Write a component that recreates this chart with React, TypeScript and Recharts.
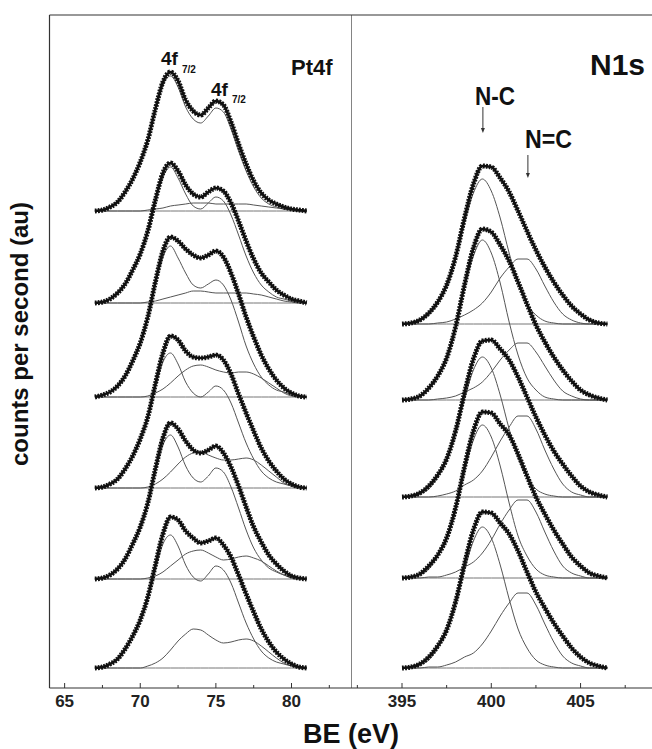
import React from "react";
import { LineChart, Line, XAxis, YAxis, ReferenceLine } from "recharts";

// Pt4f binding energies (eV)
const ptEnergy = [
  67, 67.5, 68, 68.5, 69, 69.5, 70, 70.5, 71, 71.5, 72, 72.5, 73, 73.5, 74,
  74.5, 75, 75.5, 76, 76.5, 77, 77.5, 78, 78.5, 79, 79.5, 80, 80.5, 81,
];
// stack offsets, top spectrum first
const ptOffsets = [477, 385, 291, 200, 109, 20];

const ptEnvA = [0, 1, 4, 9, 19, 32, 49, 71, 102, 129, 139, 130, 111, 100, 96, 103, 110, 106, 89, 67, 47, 30, 18, 11, 7, 4, 2, 1, 0];
const ptMetalA = [0, 1, 4, 9, 19, 32, 49, 70, 100, 126, 135, 124, 104, 92, 88, 95, 103, 99, 82, 60, 40, 24, 13, 7, 4, 2, 1, 0, 0];
const ptOxideA = [0, 0, 0, 0, 0, 0, 0, 1, 2, 3, 5, 6, 7, 8, 8, 8, 7, 7, 7, 7, 7, 6, 5, 4, 3, 2, 1, 0, 0];

const ptEnvB = [0, 1, 4, 10, 19, 33, 49, 72, 103, 130, 140, 132, 118, 109, 106, 111, 115, 112, 100, 82, 62, 44, 30, 21, 13, 8, 4, 2, 0];
const ptMetalB = [0, 1, 4, 10, 19, 33, 49, 71, 101, 126, 136, 125, 109, 97, 94, 100, 106, 102, 88, 68, 47, 30, 18, 11, 6, 4, 2, 1, 0];
const ptOxideB = [0, 0, 0, 0, 0, 0, 0, 1, 2, 4, 6, 8, 10, 12, 12, 11, 10, 10, 10, 10, 10, 9, 8, 6, 4, 2, 1, 0, 0];

const ptEnvC = [0, 2, 5, 11, 21, 36, 54, 80, 115, 146, 160, 156, 148, 142, 139, 142, 146, 140, 124, 103, 80, 60, 42, 28, 17, 9, 4, 1, 0];
const ptMetalC = [0, 2, 5, 11, 21, 36, 54, 79, 112, 140, 151, 139, 124, 112, 109, 113, 117, 112, 97, 75, 51, 33, 20, 12, 7, 5, 2, 1, 0];
const ptOxideC = [0, 0, 0, 0, 0, 0, 0, 1, 4, 8, 14, 21, 27, 31, 32, 30, 27, 25, 24, 25, 25, 23, 19, 14, 9, 4, 1, 0, 0];

const ptEnvD = [0, 1, 4, 9, 19, 32, 49, 71, 104, 135, 152, 148, 137, 131, 130, 131, 133, 128, 114, 94, 75, 57, 40, 27, 17, 9, 4, 1, 0];
const ptMetalD = [0, 1, 4, 9, 19, 32, 49, 70, 100, 126, 135, 124, 106, 95, 91, 96, 102, 98, 85, 65, 45, 29, 17, 10, 6, 4, 2, 1, 0];
const ptOxideD = [0, 0, 0, 0, 0, 0, 0, 1, 4, 9, 16, 24, 31, 35, 36, 33, 30, 28, 28, 29, 30, 28, 23, 17, 11, 5, 2, 0, 0];

const ptEnvE = [0, 1, 4, 10, 20, 35, 52, 76, 110, 141, 156, 150, 138, 129, 126, 129, 133, 126, 112, 93, 72, 52, 37, 24, 15, 8, 3, 1, 0];
const ptMetalE = [0, 1, 4, 10, 20, 35, 52, 75, 107, 134, 144, 132, 113, 101, 97, 103, 111, 107, 92, 71, 49, 31, 19, 11, 7, 4, 2, 1, 0];
const ptOxideE = [0, 0, 0, 0, 0, 0, 0, 1, 3, 7, 13, 19, 25, 28, 29, 26, 22, 19, 20, 22, 23, 21, 18, 13, 8, 4, 1, 0, 0];

const ptEnvF = [0, 1, 4, 9, 19, 32, 48, 71, 103, 134, 151, 148, 137, 130, 125, 127, 130, 123, 111, 93, 74, 56, 39, 26, 16, 9, 4, 1, 0];
const ptMetalF = [0, 1, 4, 9, 19, 32, 48, 69, 98, 124, 133, 122, 103, 91, 87, 94, 102, 98, 85, 65, 45, 29, 17, 10, 6, 4, 2, 1, 0];
const ptOxideF = [0, 0, 0, 0, 0, 0, 0, 2, 5, 10, 18, 27, 34, 39, 38, 33, 28, 25, 26, 28, 29, 27, 22, 16, 10, 5, 2, 0, 0];

// N1s binding energies (eV)
const nEnergy = [
  395, 395.5, 396, 396.5, 397, 397.5, 398, 398.5, 399, 399.5, 400, 400.5, 401,
  401.5, 402, 402.5, 403, 403.5, 404, 404.5, 405, 405.5, 406, 406.5,
];
const nOffsets = [364, 288, 191, 110, 20];

const nEnv1 = [0, 1, 4, 11, 22, 39, 67, 106, 140, 158, 157, 146, 132, 113, 93, 74, 57, 42, 29, 18, 10, 4, 1, 0];
const nSingle1 = [0, 1, 3, 9, 20, 37, 65, 101, 131, 145, 133, 106, 71, 41, 20, 9, 3, 1, 0, 0, 0, 0, 0, 0];
const nDouble1 = [0, 0, 0, 0, 1, 2, 5, 9, 14, 21, 32, 46, 57, 65, 65, 55, 38, 22, 10, 4, 1, 0, 0, 0];

const nEnv2 = [0, 1, 4, 12, 24, 42, 73, 115, 152, 171, 168, 155, 139, 118, 96, 75, 58, 43, 30, 19, 10, 5, 2, 0];
const nSingle2 = [0, 1, 3, 10, 24, 42, 73, 112, 144, 160, 147, 117, 78, 45, 22, 10, 3, 1, 0, 0, 0, 0, 0, 0];
const nDouble2 = [0, 0, 0, 0, 1, 2, 4, 8, 12, 18, 28, 40, 50, 57, 57, 48, 34, 20, 9, 4, 1, 0, 0, 0];

const nEnv3 = [0, 1, 4, 11, 22, 38, 66, 104, 138, 156, 157, 148, 137, 120, 100, 80, 62, 46, 33, 21, 11, 5, 2, 0];
const nSingle3 = [0, 1, 3, 8, 20, 36, 63, 98, 127, 140, 129, 102, 68, 39, 20, 8, 3, 1, 0, 0, 0, 0, 0, 0];
const nDouble3 = [0, 0, 0, 0, 1, 3, 6, 12, 17, 26, 40, 56, 70, 81, 81, 68, 47, 28, 13, 5, 2, 0, 0, 0];

const nEnv4 = [0, 1, 4, 12, 23, 40, 70, 111, 147, 166, 165, 154, 143, 124, 102, 81, 64, 48, 34, 21, 12, 5, 2, 0];
const nSingle4 = [0, 1, 3, 9, 22, 39, 68, 106, 138, 153, 141, 112, 75, 42, 22, 9, 3, 1, 0, 0, 0, 0, 0, 0];
const nDouble4 = [0, 0, 0, 1, 1, 3, 6, 11, 16, 25, 38, 54, 68, 78, 78, 66, 46, 27, 12, 5, 2, 0, 0, 0];

const nEnv5 = [0, 1, 4, 11, 22, 38, 66, 104, 138, 156, 155, 145, 134, 117, 96, 76, 60, 45, 32, 20, 11, 5, 2, 0];
const nSingle5 = [0, 1, 3, 8, 20, 36, 63, 98, 127, 141, 130, 103, 69, 39, 20, 8, 3, 1, 0, 0, 0, 0, 0, 0];
const nDouble5 = [0, 0, 0, 1, 1, 3, 6, 11, 15, 24, 37, 52, 65, 75, 75, 63, 44, 26, 12, 5, 2, 0, 0, 0];

const ptTicks = [65, 67.5, 70, 72.5, 75, 77.5, 80, 82.5];
const nTicks = [392.5, 395, 397.5, 400, 402.5, 405, 407.5];

const ptSets = [
  [ptEnvA, ptMetalA, ptOxideA],
  [ptEnvB, ptMetalB, ptOxideB],
  [ptEnvC, ptMetalC, ptOxideC],
  [ptEnvD, ptMetalD, ptOxideD],
  [ptEnvE, ptMetalE, ptOxideE],
  [ptEnvF, ptMetalF, ptOxideF],
];
const nSets = [
  [nEnv1, nSingle1, nDouble1],
  [nEnv2, nSingle2, nDouble2],
  [nEnv3, nSingle3, nDouble3],
  [nEnv4, nSingle4, nDouble4],
  [nEnv5, nSingle5, nDouble5],
];

const buildRows = (energy: number[], sets: number[][][], offsets: number[]) =>
  energy.map((e, i) => {
    const row: Record<string, number> = { e };
    sets.forEach((s, k) => {
      row[`base${k}`] = offsets[k];
      row[`env${k}`] = offsets[k] + s[0][i];
      row[`c1${k}`] = offsets[k] + s[1][i];
      row[`c2${k}`] = offsets[k] + s[2][i];
    });
    return row;
  });

const ptRows = buildRows(ptEnergy, ptSets, ptOffsets);
const nRows = buildRows(nEnergy, nSets, nOffsets);

const FONT = "'Liberation Sans', Arial, sans-serif";
const FRAME = "#333";

const BottomTick = (props: any) => {
  const { x, y, payload } = props;
  const v = payload.value as number;
  const major = v % 5 === 0;
  return (
    <g>
      <line x1={x} x2={x} y1={y} y2={y - (major ? 5 : 3)} stroke={FRAME} strokeWidth={1} />
      {major && (
        <text x={x} y={y + 19} textAnchor="middle" fontFamily={FONT} fontWeight="bold" fontSize={17} fill="#222">
          {v}
        </text>
      )}
    </g>
  );
};

const Arrow = (props: any) => {
  const { x1, y1, x2, y2 } = props;
  return (
    <g>
      <line x1={x1} y1={y1} x2={x2} y2={y2 - 3} stroke="#333" strokeWidth={1} />
      <polygon points={`${x2 - 2},${y2 - 5} ${x2 + 2},${y2 - 5} ${x2},${y2}`} fill="#333" />
    </g>
  );
};

const seriesLines = (count: number) => {
  const thin = [];
  const thick = [];
  for (let k = 0; k < count; k++) {
    thin.push(
      <Line key={`b${k}`} type="linear" dataKey={`base${k}`} stroke="#777" strokeWidth={1} dot={false} isAnimationActive={false} />,
      <Line key={`c2${k}`} type="monotone" dataKey={`c2${k}`} stroke="#555" strokeWidth={1} dot={false} isAnimationActive={false} />,
      <Line key={`c1${k}`} type="monotone" dataKey={`c1${k}`} stroke="#555" strokeWidth={1} dot={false} isAnimationActive={false} />
    );
    // envelope = raw data points: solid core plus beaded rim
    thick.push(
      <Line key={`ec${k}`} type="monotone" dataKey={`env${k}`} stroke="#111" strokeWidth={2.6} dot={false} isAnimationActive={false} legendType="none" />,
      <Line
        key={`e${k}`}
        type="monotone"
        dataKey={`env${k}`}
        stroke="#111"
        strokeWidth={5}
        strokeDasharray="1.8 1.2"
        dot={false}
        isAnimationActive={false}
      />
    );
  }
  return [...thin, ...thick];
};

export default function App() {
  return (
    <div
      style={{
        position: "absolute",
        left: 0,
        top: 0,
        width: 652,
        height: 749,
        overflow: "hidden",
        background: "#fff",
      }}
    >
      <div style={{ position: "absolute", left: 0, top: 0 }}>
        <LineChart width={352} height={749} data={ptRows} margin={{ top: 15, right: 0, bottom: 31, left: 49.5 }}>
          <XAxis
            dataKey="e"
            type="number"
            domain={[64, 84]}
            ticks={ptTicks}
            interval={0}
            tickSize={0}
            tickMargin={0}
            tickLine={false}
            tick={<BottomTick />}
            axisLine={{ stroke: FRAME, strokeWidth: 1.2 }}
            height={30}
          />
          <YAxis hide type="number" domain={[0, 673]} />
          <ReferenceLine x={64} stroke={FRAME} strokeWidth={1.2} />
          <ReferenceLine x={84} stroke={FRAME} strokeWidth={1.2} />
          <ReferenceLine y={673} stroke={FRAME} strokeWidth={1.2} />
          {seriesLines(ptSets.length)}
        </LineChart>
      </div>
      <div style={{ position: "absolute", left: 352, top: 0 }}>
        <LineChart width={310} height={749} data={nRows} margin={{ top: 15, right: 0, bottom: 31, left: 0 }}>
          <XAxis
            dataKey="e"
            type="number"
            domain={[392.2, 409.56]}
            ticks={nTicks}
            interval={0}
            tickSize={0}
            tickMargin={0}
            tickLine={false}
            tick={<BottomTick />}
            axisLine={{ stroke: FRAME, strokeWidth: 1.2 }}
            height={30}
          />
          <YAxis hide type="number" domain={[0, 673]} />
          <ReferenceLine y={673} stroke={FRAME} strokeWidth={1.2} />
          <ReferenceLine segment={[{ x: 399.53, y: 581 }, { x: 399.53, y: 555 }]} shape={<Arrow />} />
          <ReferenceLine segment={[{ x: 402.05, y: 533 }, { x: 402.05, y: 510 }]} shape={<Arrow />} />
          {seriesLines(nSets.length)}
        </LineChart>
      </div>
      <svg
        width={652}
        height={749}
        style={{ position: "absolute", left: 0, top: 0, pointerEvents: "none" }}
        fontFamily={FONT}
        fontWeight="bold"
        fill="#111"
      >
        <text x={161} y={65} fontSize={19}>4f</text>
        <text x={182} y={73} fontSize={10}>7/2</text>
        <text x={211} y={96} fontSize={19}>4f</text>
        <text x={232} y={103} fontSize={10}>7/2</text>
        <text x={291} y={75} fontSize={22}>Pt4f</text>
        <text x={590} y={75} fontSize={30}>N1s</text>
        <text x={475} y={105} fontSize={26} textLength={40} lengthAdjust="spacingAndGlyphs">N-C</text>
        <text x={525} y={148} fontSize={25} textLength={47} lengthAdjust="spacingAndGlyphs">N=C</text>
        <text x={303} y={743} fontSize={27}>BE (eV)</text>
        <text transform="translate(28, 334) rotate(-90)" textAnchor="middle" fontSize={24}>
          counts per second (au)
        </text>
      </svg>
    </div>
  );
}
